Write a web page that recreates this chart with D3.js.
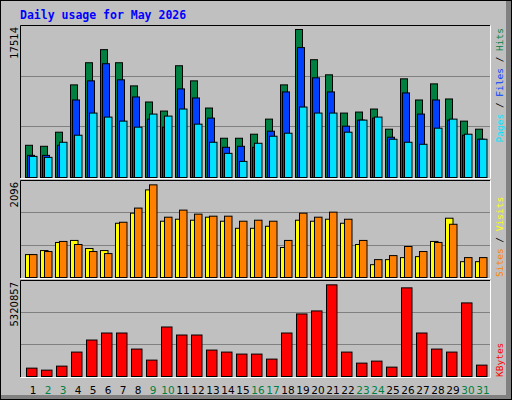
<!DOCTYPE html>
<html><head><meta charset="utf-8">
<script src="https://cdn.jsdelivr.net/npm/d3@7"></script>
<style>body{margin:0;background:#fff}</style></head>
<body><svg id="c" width="512" height="400"></svg>
<script>
const days = d3.range(1,32);
const weekend = [2,3,9,10,16,17,23,24,30,31];
const hits  = [3712,3596,5220,10672,13224,14732,13224,10556,8700,7656,12876,11136,8004,4524,4524,4988,6728,10672,17052,13572,11832,7424,7540,7888,5568,11368,8932,10788,9048,6496,5568];
const files = [2552,2552,3712,8932,11136,13108,11252,9280,6728,5800,10208,9164,6844,3480,3596,3480,5336,9860,14964,11484,9860,5916,6612,6844,4640,9744,7308,8932,6612,4872,4408];
const pages = [2436,2320,4060,4872,7424,6960,6496,5800,7308,7076,7888,6148,4060,2784,1856,3944,4756,5104,8120,7424,7424,5220,6612,6960,4408,4060,3828,5684,6728,4988,4408];
const sites = [495,582,757,801,626,582,1172,1390,1893,1216,1259,1238,1303,1216,1063,1063,1107,648,1238,1216,1259,1172,713,277,386,430,451,779,1281,342,342];
const visits= [495,561,779,713,561,517,1194,1500,2002,1303,1456,1369,1325,1325,1216,1238,1216,801,1390,1303,1412,1259,801,386,473,670,561,757,1150,430,430];
const kbytes= [463500,352260,574740,1353420,2020860,2410200,2410200,1520280,908460,2743920,2298960,2298960,1464660,1353420,1242180,1242180,964080,2410200,3466980,3633840,5079960,1353420,741600,852840,519120,4913100,2410200,1520280,1353420,4078800,630360];
const maxLabels = ["17514","2096","5320857"];

const svg = d3.select("#c");
// frame
svg.append("rect").attr("x",0).attr("y",0).attr("width",512).attr("height",400).attr("fill","#000");
svg.append("rect").attr("x",1).attr("y",1).attr("width",510).attr("height",398).attr("fill","#808080");
svg.append("rect").attr("x",1).attr("y",1).attr("width",505).attr("height",394).attr("fill","#c0c0c0");
svg.append("text").attr("x",20).attr("y",19).text("Daily usage for May 2026")
  .attr("font-family","DejaVu Sans Mono").attr("font-weight","bold").attr("font-size","11.5px").attr("fill","#0000ff");

const x = d3.scaleBand().domain(days).range([21,486]).paddingInner(0).paddingOuter(0);
x.range([25 - 0, 25 + 15*31]);

const panels = [
  {top:25,bottom:177,max:17514,series:[{v:hits,c:"#008040",dx:0,w:7},{v:files,c:"#0040ff",dx:2,w:7},{v:pages,c:"#00e0ff",dx:4,w:7.5}]},
  {top:180,bottom:277,max:2096,series:[{v:sites,c:"#ffff00",dx:0,w:7.5},{v:visits,c:"#ff8000",dx:4,w:7.5}]},
  {top:280,bottom:376,max:5320857,series:[{v:kbytes,c:"#ff0000",dx:1,w:10.5}]}
];
panels.forEach((p,pi)=>{
  const g = svg.append("g");
  const y = d3.scaleLinear().domain([0,p.max]).range([p.bottom,p.top]);
  g.append("rect").attr("x",20).attr("y",p.top).attr("width",471).attr("height",p.bottom-p.top+1).attr("fill","#c0c0c0");
  const h = p.bottom-p.top;
  [1,2].forEach(k=>g.append("line").attr("x1",21).attr("x2",490)
     .attr("y1",Math.round(p.bottom-h*k/3)+0.5).attr("y2",Math.round(p.bottom-h*k/3)+0.5).attr("stroke","#808080"));
  p.series.forEach(s=>{
    g.selectAll(null).data(days).enter().append("rect")
      .attr("x",d=>x(d)+s.dx+0.5).attr("width",s.w)
      .attr("y",(d,i)=>y(s.v[i])+0.5).attr("height",(d,i)=>p.bottom-y(s.v[i]))
      .attr("fill",s.c).attr("stroke","#000").attr("stroke-width",1);
  });
  // 3D edges
  g.append("path").attr("d",`M20.5,${p.bottom+1}V${p.top+0.5}H490`).attr("stroke","#000").attr("fill","none");
  g.append("path").attr("d",`M20.5,${p.bottom+1.5}H490.5V${p.top+0.5}`).attr("stroke","#fff").attr("fill","none");
  svg.append("text").attr("transform",`translate(18,${p.top+2}) rotate(-90)`).attr("text-anchor","end")
    .text(maxLabels[pi]).attr("font-family","DejaVu Sans").attr("font-size","10px").attr("fill","#000");
});

function rlabel(parts, yPos, anchor){
  const t = svg.append("text").attr("transform",`translate(503,${yPos}) rotate(-90)`).attr("text-anchor",anchor)
    .attr("font-family","DejaVu Sans Mono").attr("font-size","9.5px");
  parts.forEach(([s,c])=>t.append("tspan").text(s).attr("fill",c));
}
rlabel([["Pages","#00e0ff"],[" / ","#000"],["Files","#0040ff"],[" / ","#000"],["Hits","#008040"]],28,"end");
rlabel([["Sites","#ff8000"],[" / ","#000"],["Visits","#ffff00"]],277,"start");
rlabel([["KBytes","#ff0000"]],377,"start");

svg.selectAll(null).data(days).enter().append("text")
  .attr("x",d=>x(d)+8).attr("y",394).attr("text-anchor","middle").text(d=>d)
  .attr("font-family","DejaVu Sans").attr("font-size","10.5px")
  .attr("fill",d=>weekend.includes(d)?"#008040":"#000");
</script></body></html>
